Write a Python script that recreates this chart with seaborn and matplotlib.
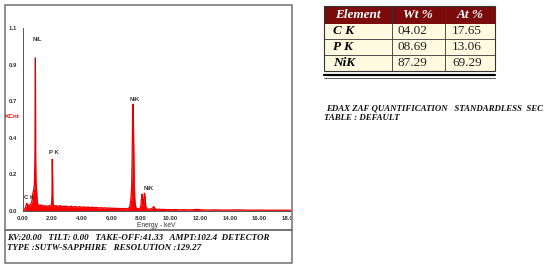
import matplotlib
matplotlib.use("Agg")
import matplotlib.pyplot as plt
import seaborn as sns
from matplotlib.patches import Rectangle
from matplotlib.transforms import Bbox, TransformedBbox

# ---- spectrum (energy keV, counts in KCnt) ----
kev = [0.00, 0.10, 0.18, 0.24, 0.28, 0.32, 0.38, 0.44, 0.50, 0.56, 0.62, 0.66,
       0.70, 0.74, 0.77, 0.80, 0.82, 0.84, 0.86, 0.87, 0.88, 0.89, 0.91, 0.93,
       0.96, 0.99, 1.03, 1.08, 1.14, 1.20, 1.26, 1.32, 1.38, 1.44, 1.50, 1.56,
       1.62, 1.68, 1.74, 1.80, 1.86, 1.92, 1.96, 1.99, 2.01, 2.03, 2.05, 2.08,
       2.12, 2.18, 2.24, 2.30, 2.36, 2.42, 2.48, 2.54, 2.60, 2.66, 2.72, 2.78,
       2.84, 2.90, 2.96, 3.03, 3.10, 3.17, 3.24, 3.31, 3.38, 3.45, 3.52, 3.59,
       3.66, 3.73, 3.80, 3.87, 3.94, 4.01, 4.08, 4.15, 4.22, 4.29, 4.36, 4.43,
       4.50, 4.57, 4.64, 4.71, 4.78, 4.85, 4.92, 4.99, 5.06, 5.13, 5.20, 5.27,
       5.34, 5.41, 5.48, 5.55, 5.62, 5.69, 5.76, 5.83, 5.90, 5.97, 6.04, 6.11,
       6.18, 6.25, 6.32, 6.39, 6.46, 6.53, 6.60, 6.67, 6.74, 6.81, 6.88, 6.95,
       7.02, 7.09, 7.16, 7.22, 7.28, 7.33, 7.37, 7.41, 7.45, 7.48, 7.51, 7.55,
       7.59, 7.64, 7.70, 7.76, 7.82, 7.88, 7.94, 7.99, 8.03, 8.08, 8.12, 8.16,
       8.20, 8.24, 8.28, 8.32, 8.37, 8.44, 8.52, 8.60, 8.70, 8.80, 8.86, 8.92,
       9.00, 9.10, 9.25, 9.40, 9.55, 9.70, 9.85, 10.0, 10.3, 10.6, 10.9, 11.2,
       11.5, 11.8, 12.1, 12.5, 13.0, 13.5, 14.0, 14.5, 15.0, 15.5, 16.0, 16.5,
       17.0, 17.5, 18.0, 18.1]
kcnt = [0.000, 0.004, 0.015, 0.030, 0.045, 0.038, 0.030, 0.036, 0.032, 0.040, 0.052, 0.070,
        0.105, 0.120, 0.135, 0.160, 0.220, 0.330, 0.700, 0.920, 0.700, 0.300, 0.180, 0.140,
        0.110, 0.060, 0.040, 0.034, 0.030, 0.036, 0.027, 0.033, 0.025, 0.031, 0.026, 0.030,
        0.024, 0.029, 0.027, 0.031, 0.026, 0.032, 0.045, 0.090, 0.310, 0.210, 0.070, 0.034,
        0.028, 0.032, 0.025, 0.030, 0.023, 0.029, 0.026, 0.031, 0.024, 0.028, 0.022, 0.027,
        0.024, 0.029, 0.022, 0.027, 0.021, 0.026, 0.023, 0.028, 0.020, 0.025, 0.022, 0.026,
        0.019, 0.024, 0.021, 0.025, 0.018, 0.023, 0.020, 0.024, 0.018, 0.022, 0.019, 0.023,
        0.017, 0.021, 0.018, 0.022, 0.016, 0.020, 0.017, 0.021, 0.016, 0.019, 0.015, 0.019,
        0.016, 0.018, 0.014, 0.018, 0.015, 0.017, 0.013, 0.017, 0.014, 0.016, 0.013, 0.016,
        0.012, 0.015, 0.013, 0.015, 0.012, 0.014, 0.012, 0.014, 0.011, 0.014, 0.012, 0.013,
        0.011, 0.013, 0.014, 0.020, 0.040, 0.080, 0.150, 0.350, 0.640, 0.640, 0.400, 0.150,
        0.060, 0.025, 0.014, 0.012, 0.013, 0.011, 0.014, 0.030, 0.070, 0.100, 0.060, 0.040,
        0.070, 0.105, 0.080, 0.030, 0.012, 0.010, 0.011, 0.009, 0.012, 0.018, 0.025, 0.016,
        0.009, 0.008, 0.009, 0.007, 0.008, 0.006, 0.007, 0.006, 0.007, 0.005, 0.006, 0.005,
        0.006, 0.008, 0.005, 0.004, 0.005, 0.004, 0.004, 0.005, 0.004, 0.003, 0.004, 0.003,
        0.003, 0.003, 0.003, 0.003]

peak_names = ["NiL", "P K", "NiK", "NiK", "C K"]
peak_kev = [0.98, 2.10, 7.60, 8.50, 0.45]
peak_cnt = [1.03, 0.35, 0.67, 0.136, 0.077]

x_ticks = [0, 2, 4, 6, 8, 10, 12, 14, 16, 18]
y_ticks = [0.0, 0.22, 0.44, 0.66, 0.88, 1.10]
y_ticklabels = ["0.0", "0.2", "0.4", "0.7", "0.9", "1.1"]

# ---- quantification table ----
elements = ["C K", "P K", "NiK"]
wt_pct = ["04.02", "08.69", "87.29"]
at_pct = ["17.65", "13.06", "69.29"]

info_lines = ["KV:20.00   TILT: 0.00   TAKE-OFF:41.33   AMPT:102.4  DETECTOR",
              "TYPE :SUTW-SAPPHIRE   RESOLUTION :129.27"]
quant_lines = ["EDAX ZAF QUANTIFICATION   STANDARDLESS  SEC", "TABLE : DEFAULT"]

sns.set_style("white")
plt.rcParams["font.family"] = ["Liberation Sans", "DejaVu Sans"]

W, H = 550, 267
fig = plt.figure(figsize=(W / 100, H / 100), dpi=100)

red = "#ff0000"
ax = fig.add_axes([22.5 / W, (H - 210.7) / H, 268 / W, 182.7 / H])
ax.fill_between(kev, kcnt, 0, color=red, linewidth=0)
sns.lineplot(x=kev, y=kcnt, ax=ax, color="#e80000", linewidth=0.9)
ax.set_xlim(0, 18.1)
ax.set_ylim(0, 1.1)
ax.set_xticks(x_ticks)
ax.set_xticklabels([f"{t:.2f}" for t in x_ticks])
ax.set_yticks(y_ticks)
ax.set_yticklabels(y_ticklabels)
ax.tick_params(axis="both", labelsize=4.3, length=2.5, width=0.6, pad=1.5,
               colors="#333333", direction="out")
for lbl in ax.get_xticklabels() + ax.get_yticklabels():
    lbl.set_fontweight("bold")
for s in ["top", "right"]:
    ax.spines[s].set_visible(False)
for s in ["left", "bottom"]:
    ax.spines[s].set_color("#555555")
    ax.spines[s].set_linewidth(0.7)
ax.set_xlabel("Energy - keV", fontsize=4.8, labelpad=0.5, color="#333333")
ax.set_ylabel("")
ax.patch.set_alpha(0)

for name, xe, yc in zip(peak_names, peak_kev, peak_cnt):
    ax.text(xe, yc, name, fontsize=4.3, fontweight="bold", color="#333333",
            ha="center", va="center")

# clip the last tick label at the frame edge as in the original
clip = TransformedBbox(Bbox([[0, 0], [291 / W, 1]]), fig.transFigure)
last = ax.get_xticklabels()[-1]
last.set_clip_box(clip)
last.set_clip_on(True)

fig.text(12.5 / W, 1 - 117 / H, "KCnt", fontsize=4.5, fontweight="bold",
         color=red, ha="center", va="center")

# overlay in pixel coordinates for frames, table and notes
ov = fig.add_axes([0, 0, 1, 1])
ov.set_xlim(0, W)
ov.set_ylim(H, 0)
ov.axis("off")

frame_col = "#707070"
ov.add_patch(Rectangle((4.5, 4.5), 287, 225.5, fill=False, ec=frame_col, lw=1.1))
ov.add_patch(Rectangle((4.5, 230), 287, 33, fill=False, ec=frame_col, lw=1.1))

serif = ["Liberation Serif", "DejaVu Serif"]
for i, line in enumerate(info_lines):
    ov.text(7, 237.5 + i * 11, line, family=serif, fontsize=6.5, fontweight="bold",
            style="italic", color="#111111", ha="left", va="center")

# table
x0, x1, x2, x3 = 323.5, 391.7, 445, 495
y0, yh = 6, 23.5
row_h = 15.7
ov.add_patch(Rectangle((x0, y0), x3 - x0, yh - y0, color="#7b0a0a", lw=0))
ov.add_patch(Rectangle((x0, yh), x3 - x0, row_h * 3, color="#fffbe1", lw=0))
for yy in [yh + row_h, yh + 2 * row_h]:
    ov.plot([x0, x3], [yy, yy], color="#333333", lw=0.6)
for xx in [x1, x2]:
    ov.plot([xx, xx], [y0, yh + 3 * row_h], color="#333333", lw=0.6)
ov.add_patch(Rectangle((x0, y0), x3 - x0, yh + 3 * row_h - y0, fill=False,
                       ec="#333333", lw=0.8))
ov.plot([x0, x3], [75.3, 75.3], color="black", lw=1.6)
ov.plot([x0, x3], [77.6, 77.6], color="#555555", lw=0.7)

hdr_y = (y0 + yh) / 2
for txt, xc in [("Element", (x0 + x1) / 2), ("Wt %", (x1 + x2) / 2), ("At %", (x2 + x3) / 2)]:
    ov.text(xc, hdr_y, txt, family=serif, fontsize=9.5, fontweight="bold",
            style="italic", color="white", ha="center", va="center")
for i, (el, wt, at) in enumerate(zip(elements, wt_pct, at_pct)):
    yc = yh + row_h * (i + 0.5)
    ov.text(x0 + 9.5, yc, el, family=serif, fontsize=9.5, fontweight="bold",
            style="italic", color="black", ha="left", va="center")
    ov.text(x1 + 6, yc, wt, family=serif, fontsize=9.5, color="#222222",
            ha="left", va="center")
    ov.text(x2 + 7, yc, at, family=serif, fontsize=9.5, color="#222222",
            ha="left", va="center")

ov.text(326, 108, quant_lines[0], family=serif, fontsize=6.4, fontweight="bold",
        style="italic", color="#111111", ha="left", va="center")
ov.text(323.5, 118, quant_lines[1], family=serif, fontsize=6.4, fontweight="bold",
        style="italic", color="#111111", ha="left", va="center")

fig.savefig("out.png", dpi=100)
